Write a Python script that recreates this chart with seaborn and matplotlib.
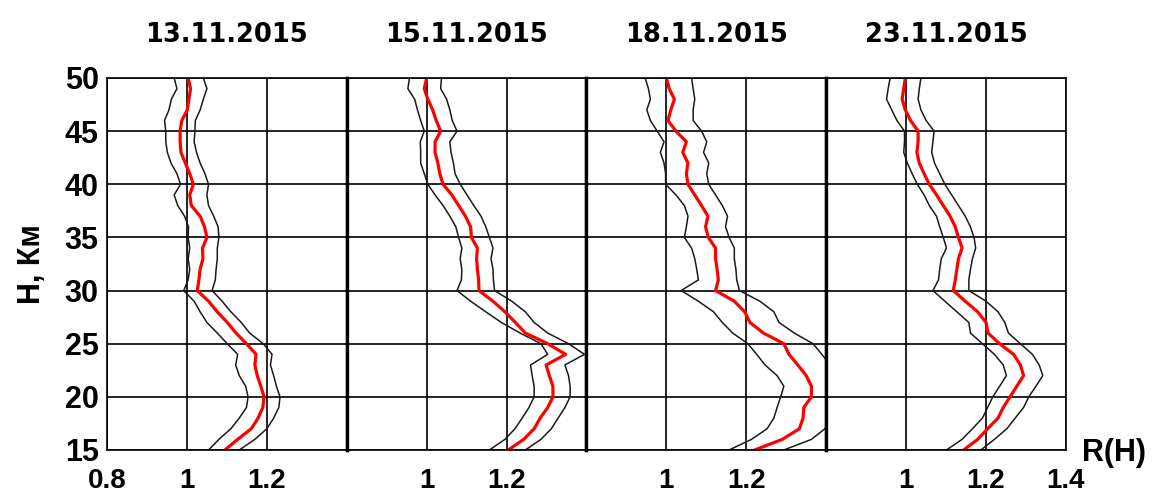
import numpy as np
import pandas as pd
import matplotlib
matplotlib.use("Agg")
import matplotlib.pyplot as plt
import seaborn as sns

# высоты, км (от 50 вниз до 15)
heights = list(range(50, 14, -1))

dates = ['13.11.2015', '15.11.2015', '18.11.2015', '23.11.2015']

# R(H) - средний профиль (красная линия)
r_mid_1311 = [1.003, 1.009, 1.005, 1.001, 0.987, 0.983, 0.983, 0.985, 0.996, 1.007,
              1.016, 1.007, 1.011, 1.033, 1.044, 1.050, 1.039, 1.040, 1.033, 1.030,
              1.026, 1.054, 1.076, 1.101, 1.123, 1.149, 1.173, 1.170, 1.176, 1.185,
              1.193, 1.190, 1.178, 1.161, 1.127, 1.095]
r_mid_1511 = [1.000, 0.994, 1.003, 1.015, 1.024, 1.035, 1.021, 1.021, 1.028, 1.033,
              1.041, 1.063, 1.080, 1.097, 1.110, 1.112, 1.127, 1.125, 1.127, 1.130,
              1.131, 1.166, 1.196, 1.222, 1.247, 1.303, 1.348, 1.299, 1.307, 1.316,
              1.316, 1.303, 1.284, 1.269, 1.243, 1.204]
r_mid_1811 = [1.000, 1.007, 1.020, 1.011, 1.004, 1.024, 1.050, 1.041, 1.054, 1.050,
              1.054, 1.071, 1.088, 1.104, 1.098, 1.105, 1.123, 1.123, 1.127, 1.130,
              1.123, 1.170, 1.196, 1.209, 1.243, 1.294, 1.307, 1.329, 1.350, 1.363,
              1.363, 1.344, 1.342, 1.333, 1.290, 1.221]
r_mid_2311 = [0.998, 0.994, 0.990, 0.998, 1.011, 1.030, 1.030, 1.027, 1.033, 1.045,
              1.058, 1.076, 1.093, 1.110, 1.123, 1.131, 1.140, 1.131, 1.127, 1.123,
              1.118, 1.148, 1.179, 1.200, 1.205, 1.234, 1.269, 1.286, 1.294, 1.277,
              1.260, 1.243, 1.230, 1.204, 1.179, 1.144]

# нижняя граница (левая чёрная линия)
r_lo_1311 = [0.968, 0.975, 0.961, 0.955, 0.944, 0.947, 0.947, 0.951, 0.960, 0.975,
             0.984, 0.968, 0.977, 0.994, 1.004, 1.003, 1.007, 1.003, 1.007, 1.003,
             0.992, 1.018, 1.033, 1.050, 1.076, 1.101, 1.127, 1.122, 1.131, 1.147,
             1.153, 1.149, 1.131, 1.110, 1.080, 1.054]
r_lo_1511 = [0.957, 0.953, 0.970, 0.977, 0.985, 0.994, 0.984, 0.985, 0.985, 0.994,
             1.003, 1.021, 1.041, 1.058, 1.073, 1.080, 1.088, 1.084, 1.088, 1.087,
             1.076, 1.110, 1.148, 1.187, 1.234, 1.286, 1.303, 1.260, 1.264, 1.269,
             1.269, 1.256, 1.239, 1.221, 1.196, 1.157]
r_lo_1811 = [0.947, 0.955, 0.960, 0.951, 0.960, 0.977, 0.994, 0.985, 0.994, 0.998,
             0.998, 1.024, 1.045, 1.054, 1.050, 1.045, 1.063, 1.071, 1.076, 1.080,
             1.037, 1.080, 1.118, 1.140, 1.166, 1.204, 1.226, 1.247, 1.277, 1.294,
             1.286, 1.277, 1.269, 1.252, 1.213, 1.157]
r_lo_2311 = [0.960, 0.955, 0.951, 0.964, 0.977, 0.996, 0.996, 0.994, 1.003, 1.015,
             1.028, 1.045, 1.058, 1.076, 1.084, 1.093, 1.101, 1.088, 1.084, 1.081,
             1.067, 1.097, 1.127, 1.157, 1.161, 1.191, 1.221, 1.243, 1.251, 1.234,
             1.217, 1.204, 1.191, 1.166, 1.140, 1.101]

# верхняя граница (правая чёрная линия)
r_hi_1311 = [1.041, 1.050, 1.041, 1.033, 1.021, 1.020, 1.018, 1.024, 1.033, 1.045,
             1.054, 1.050, 1.054, 1.067, 1.078, 1.080, 1.076, 1.076, 1.073, 1.071,
             1.063, 1.088, 1.110, 1.136, 1.157, 1.191, 1.213, 1.209, 1.217, 1.224,
             1.233, 1.230, 1.217, 1.200, 1.170, 1.131]
r_hi_1511 = [1.037, 1.035, 1.050, 1.058, 1.064, 1.076, 1.058, 1.061, 1.067, 1.071,
             1.084, 1.101, 1.118, 1.136, 1.148, 1.157, 1.166, 1.161, 1.166, 1.167,
             1.170, 1.213, 1.247, 1.269, 1.303, 1.355, 1.395, 1.346, 1.355, 1.359,
             1.359, 1.346, 1.329, 1.312, 1.286, 1.247]
r_hi_1811 = [1.063, 1.067, 1.071, 1.067, 1.067, 1.088, 1.101, 1.093, 1.106, 1.101,
             1.106, 1.123, 1.140, 1.153, 1.148, 1.157, 1.170, 1.170, 1.174, 1.176,
             1.183, 1.234, 1.269, 1.282, 1.320, 1.367, 1.389, 1.410, 1.423, 1.430,
             1.430, 1.420, 1.410, 1.397, 1.363, 1.294]
r_hi_2311 = [1.037, 1.033, 1.030, 1.037, 1.050, 1.070, 1.067, 1.064, 1.071, 1.084,
             1.097, 1.114, 1.131, 1.148, 1.161, 1.170, 1.174, 1.166, 1.161, 1.157,
             1.157, 1.200, 1.230, 1.247, 1.256, 1.286, 1.316, 1.333, 1.342, 1.325,
             1.307, 1.294, 1.273, 1.252, 1.221, 1.187]

x_ticks = [0.8, 1.0, 1.2, 1.4]
x_labels = [['0.8', '1', '1.2', ''],
            ['', '1', '1.2', ''],
            ['', '1', '1.2', ''],
            ['', '1', '1.2', '1.4']]
y_ticks = list(range(15, 51, 5))

frames = []
for d, mid, lo, hi in zip(dates,
                          [r_mid_1311, r_mid_1511, r_mid_1811, r_mid_2311],
                          [r_lo_1311, r_lo_1511, r_lo_1811, r_lo_2311],
                          [r_hi_1311, r_hi_1511, r_hi_1811, r_hi_2311]):
    frames.append(pd.DataFrame({'date': d, 'H': heights, 'mid': mid, 'lo': lo, 'hi': hi}))
df = pd.concat(frames, ignore_index=True)

sns.set_style("white")
plt.rcParams['font.family'] = ['Liberation Sans', 'DejaVu Sans']
plt.rcParams['font.weight'] = 'bold'
plt.rcParams['text.color'] = 'black'
plt.rcParams['axes.labelcolor'] = 'black'
plt.rcParams['xtick.color'] = 'black'
plt.rcParams['ytick.color'] = 'black'

fig, axes = plt.subplots(1, 4, figsize=(11.57, 4.99), dpi=100, sharey=True)
fig.subplots_adjust(left=0.0925, right=0.9213, top=0.8437, bottom=0.0982, wspace=0)

for i, (ax, d) in enumerate(zip(axes, dates)):
    sub = df[df['date'] == d]
    sns.lineplot(data=sub, x='lo', y='H', orient='y', estimator=None,
                 color='#1a1a1a', lw=1.1, ax=ax)
    sns.lineplot(data=sub, x='hi', y='H', orient='y', estimator=None,
                 color='#1a1a1a', lw=1.1, ax=ax)
    sns.lineplot(data=sub, x='mid', y='H', orient='y', estimator=None,
                 color='#ff0000', lw=2.3, ax=ax)

    ax.set_xlim(0.8, 1.4)
    ax.set_ylim(15, 50)
    ax.set_xticks(x_ticks)
    ax.set_xticklabels(x_labels[i])
    ax.set_yticks(y_ticks)
    ax.grid(True, color='black', lw=1.2)
    ax.set_xlabel('')
    ax.set_ylabel('')

    for side in ['top', 'bottom', 'left', 'right']:
        ax.spines[side].set_color('black')
        ax.spines[side].set_linewidth(1.2)
    if i > 0:
        ax.spines['left'].set_linewidth(2.4)
    if i < 3:
        ax.spines['right'].set_linewidth(2.4)

    ax.tick_params(axis='x', direction='out', length=5, width=1.2, color='black',
                   labelsize=20, pad=8)
    ax.tick_params(axis='y', direction='out', length=4, width=1.2, color='black',
                   labelsize=22, pad=2)
    if i > 0:
        ax.tick_params(axis='y', length=0, labelleft=False)

    ax.set_title(d, fontsize=18.5, fontweight='bold', family='DejaVu Sans', pad=26)

axes[0].set_ylabel('Н, Км', fontsize=22, fontweight='bold')
axes[0].yaxis.set_label_coords(-0.25, 0.5)

fig.text(0.963, 0.092, 'R(H)', fontsize=22, fontweight='bold', ha='center', va='center')

fig.savefig('out.png', dpi=100)
